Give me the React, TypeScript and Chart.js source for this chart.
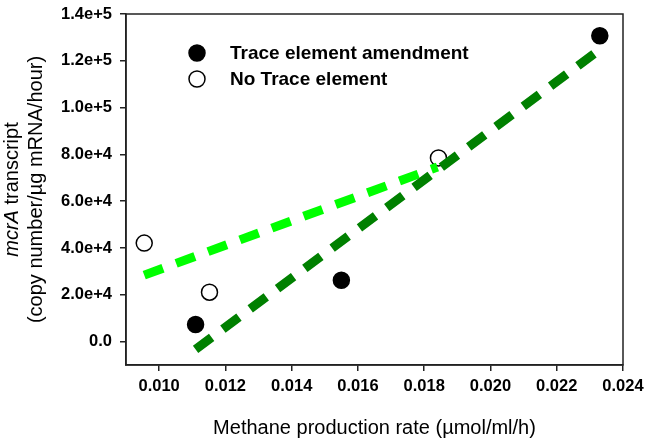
import { useEffect, useRef } from "react";
import { Chart, registerables } from "chart.js";

Chart.register(...registerables);

const FONT = "'Liberation Sans', Arial, sans-serif";

// methane production rate (µmol/ml/h) vs mcrA transcripts
const amendedRate = [0.0111, 0.0155, 0.0233];
const amendedCopies = [7300, 26200, 130700];
const noTraceRate = [0.00955, 0.01152, 0.01843];
const noTraceCopies = [42100, 21100, 78500];

// fitted lines, end points
const amendedFitRate = [0.0111, 0.0233];
const amendedFitCopies = [-3300, 124800];
const noTraceFitRate = [0.00955, 0.0184];
const noTraceFitCopies = [28400, 74600];

const xTicks = [0.01, 0.012, 0.014, 0.016, 0.018, 0.02, 0.022, 0.024];
const yTicks = [0, 20000, 40000, 60000, 80000, 100000, 120000, 140000];

const legendLabels = ["Trace element amendment", "No Trace element"];

const toPoints = (xs: number[], ys: number[]) => xs.map((x, i) => ({ x, y: ys[i] }));

const decorPlugin = {
  id: "decor",
  afterDraw(chart: Chart) {
    const { ctx, chartArea } = chart;
    const { left, top, right, bottom } = chartArea;
    ctx.save();

    // frame
    ctx.strokeStyle = "#222";
    ctx.lineWidth = 1.5;
    ctx.strokeRect(left, top, right - left, bottom - top);

    // legend
    ctx.font = `bold 19px ${FONT}`;
    ctx.textBaseline = "middle";
    ctx.textAlign = "left";
    legendLabels.forEach((label, i) => {
      const cy = top + 39 + i * 26;
      const cx = left + 71;
      ctx.beginPath();
      ctx.arc(cx, cy, 8, 0, Math.PI * 2);
      ctx.fillStyle = i === 0 ? "#000" : "#fff";
      ctx.fill();
      ctx.lineWidth = 1.5;
      ctx.strokeStyle = "#000";
      ctx.stroke();
      ctx.fillStyle = "#000";
      ctx.fillText(label, left + 104, cy + 1);
    });

    // x title
    ctx.font = `20px ${FONT}`;
    ctx.textAlign = "center";
    ctx.textBaseline = "alphabetic";
    ctx.fillText("Methane production rate (µmol/ml/h)", (left + right) / 2, 434);

    // y title, two lines, rotated
    const cy = (top + bottom) / 2;
    ctx.translate(0, cy);
    ctx.rotate(-Math.PI / 2);
    ctx.textAlign = "left";
    ctx.font = `italic 20px ${FONT}`;
    const w1 = ctx.measureText("mcrA").width;
    ctx.font = `20px ${FONT}`;
    const w2 = ctx.measureText(" transcript").width;
    const start = -(w1 + w2) / 2;
    ctx.font = `italic 20px ${FONT}`;
    ctx.fillText("mcrA", start, 18);
    ctx.font = `20px ${FONT}`;
    ctx.fillText(" transcript", start + w1, 18);
    ctx.textAlign = "center";
    ctx.fillText("(copy number/µg mRNA/hour)", 0, 42);

    ctx.restore();
  },
};

export default function App() {
  const chartRef = useRef<HTMLCanvasElement>(null);
  const chartInstance = useRef<Chart | null>(null);

  useEffect(() => {
    document.body.style.margin = "0";
    if (!chartRef.current) return;
    const ctx = chartRef.current.getContext("2d");
    if (!ctx) return;

    if (chartInstance.current) {
      chartInstance.current.destroy();
    }

    chartInstance.current = new Chart(ctx, {
      type: "scatter",
      data: {
        datasets: [
          {
            label: "amended fit",
            data: toPoints(amendedFitRate, amendedFitCopies),
            showLine: true,
            borderColor: "#008000",
            borderWidth: 9,
            borderDash: [20, 14],
            borderCapStyle: "butt",
            pointRadius: 0,
          },
          {
            label: "no trace fit",
            data: toPoints(noTraceFitRate, noTraceFitCopies),
            showLine: true,
            borderColor: "#00ff00",
            borderWidth: 9,
            borderDash: [20, 14],
            borderCapStyle: "butt",
            pointRadius: 0,
          },
          {
            label: legendLabels[0],
            data: toPoints(amendedRate, amendedCopies),
            pointRadius: 8,
            pointBackgroundColor: "#000",
            pointBorderColor: "#000",
            pointBorderWidth: 1.5,
          },
          {
            label: legendLabels[1],
            data: toPoints(noTraceRate, noTraceCopies),
            pointRadius: 8,
            pointBackgroundColor: "#fff",
            pointBorderColor: "#000",
            pointBorderWidth: 1.5,
          },
        ],
      },
      options: {
        responsive: false,
        animation: false,
        layout: { padding: { left: 0, top: 14, right: 27, bottom: 0 } },
        plugins: {
          legend: { display: false },
          tooltip: { enabled: false },
        },
        scales: {
          x: {
            type: "linear",
            min: 0.009,
            max: 0.024,
            afterFit: (scale: any) => {
              scale.height = 80;
            },
            afterBuildTicks: (scale: any) => {
              scale.ticks = xTicks.map(value => ({ value }));
            },
            ticks: {
              color: "#000",
              padding: 6,
              font: { family: FONT, size: 16.5, weight: "bold" },
              callback: (v: any) => Number(v).toFixed(3),
            },
            grid: {
              drawOnChartArea: false,
              drawTicks: true,
              tickLength: 6,
              color: "#222",
              lineWidth: 1.5,
            },
            border: { display: true, color: "#222", width: 1.5 },
          },
          y: {
            type: "linear",
            min: -10000,
            max: 140000,
            afterFit: (scale: any) => {
              scale.width = 126;
              scale.paddingTop = 0;
              scale.paddingBottom = 0;
            },
            afterBuildTicks: (scale: any) => {
              scale.ticks = yTicks.map(value => ({ value }));
            },
            ticks: {
              color: "#000",
              padding: 8,
              font: { family: FONT, size: 16.5, weight: "bold" },
              callback: (v: any) => (Number(v) === 0 ? "0.0" : Number(v).toExponential(1)),
            },
            grid: {
              drawOnChartArea: false,
              drawTicks: true,
              tickLength: 6,
              color: "#222",
              lineWidth: 1.5,
            },
            border: { display: true, color: "#222", width: 1.5 },
          },
        },
      },
      plugins: [decorPlugin],
    });

    return () => {
      if (chartInstance.current) {
        chartInstance.current.destroy();
        chartInstance.current = null;
      }
    };
  }, []);

  return (
    <div style={{ width: 650, height: 445 }}>
      <canvas ref={chartRef} width={650} height={445} />
    </div>
  );
}
